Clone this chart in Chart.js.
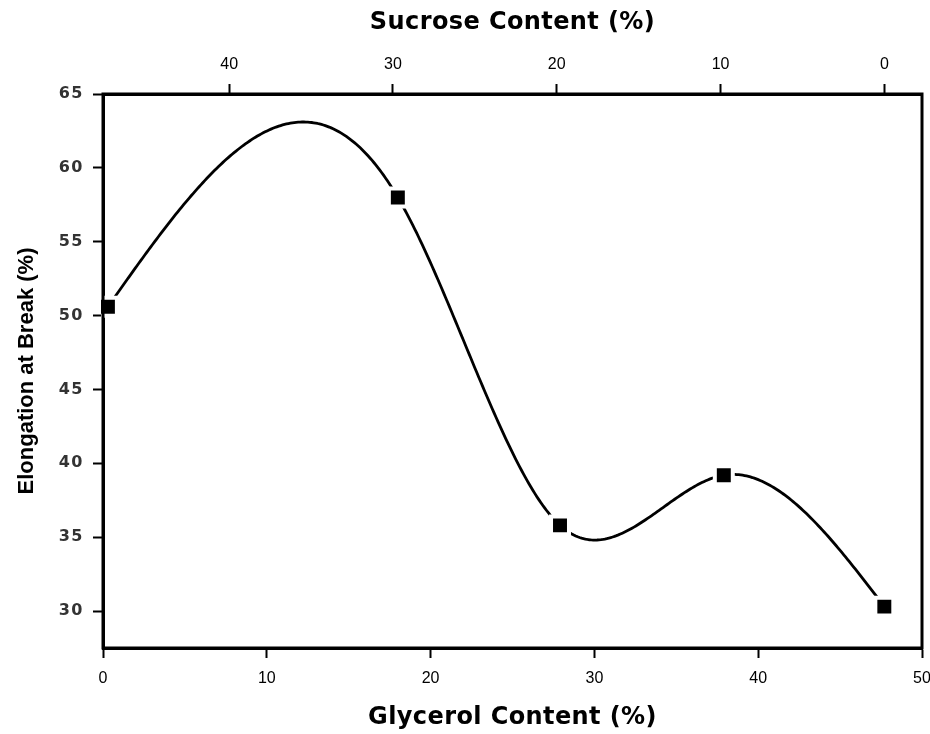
<!DOCTYPE html>
<html>
<head>
<meta charset="utf-8">
<title>Elongation at Break vs Glycerol / Sucrose Content</title>
<script src="https://cdn.jsdelivr.net/npm/chart.js@4/dist/chart.umd.min.js"></script>
<style>
  html, body { margin: 0; padding: 0; background: #fff; }
  canvas { display: block; }
</style>
</head>
<body>
<canvas id="chart" width="930" height="734"></canvas>
<script>
// Measured film formulations
const glycerolContent = [0.3, 18.0, 27.9, 37.9, 47.7];
const elongationAtBreak = [50.6, 58.0, 35.8, 39.2, 30.3];

// Axis ticks
const glycerolTicks = [0, 10, 20, 30, 40, 50];
const sucroseTicks = [40, 30, 20, 10, 0];
const elongationTicks = [30, 35, 40, 45, 50, 55, 60, 65];

// Sucrose share of the formulation with no glycerol; the top axis runs the other way
const sucroseAtNoGlycerol = 47.7;

const SANS = "'Liberation Sans', Arial, Helvetica, sans-serif";
const WIDE = "'DejaVu Sans', Verdana, sans-serif";

// Linear scale that can space out the letters of its title and tick labels
const BaseLinear = Chart.LinearScale || Chart.registry.getScale('linear');
class SpacedLinearScale extends BaseLinear {
  drawTitle() {
    const ctx = this.ctx;
    ctx.save();
    ctx.letterSpacing = (this.options.title.letterSpacing || 0) + 'px';
    super.drawTitle();
    ctx.restore();
  }
  drawLabels(area) {
    const ctx = this.ctx;
    ctx.save();
    ctx.letterSpacing = (this.options.ticks.letterSpacing || 0) + 'px';
    super.drawLabels(area);
    ctx.restore();
  }
}
SpacedLinearScale.id = 'spacedLinear';
SpacedLinearScale.defaults = BaseLinear.defaults;
Chart.register(SpacedLinearScale);

// Natural cubic spline through the measured points (in data units)
function naturalSpline(xs, ys) {
  const n = xs.length;
  const h = [];
  for (let i = 0; i < n - 1; i++) h.push(xs[i + 1] - xs[i]);
  const a = [], b = [], c = [], r = [];
  for (let i = 1; i < n - 1; i++) {
    a.push(h[i - 1]);
    b.push(2 * (h[i - 1] + h[i]));
    c.push(h[i]);
    r.push(6 * ((ys[i + 1] - ys[i]) / h[i] - (ys[i] - ys[i - 1]) / h[i - 1]));
  }
  const k = b.length;
  for (let i = 1; i < k; i++) {
    const w = a[i] / b[i - 1];
    b[i] -= w * c[i - 1];
    r[i] -= w * r[i - 1];
  }
  const sol = new Array(k);
  sol[k - 1] = r[k - 1] / b[k - 1];
  for (let i = k - 2; i >= 0; i--) sol[i] = (r[i] - c[i] * sol[i + 1]) / b[i];
  const m = new Array(n).fill(0);
  for (let i = 0; i < k; i++) m[i + 1] = sol[i];
  return function (x) {
    let i = 0;
    while (i < n - 2 && x > xs[i + 1]) i++;
    const hi = h[i];
    const A = (xs[i + 1] - x) / hi;
    const B = (x - xs[i]) / hi;
    return A * ys[i] + B * ys[i + 1] +
      ((A * A * A - A) * m[i] + (B * B * B - B) * m[i + 1]) * hi * hi / 6;
  };
}

const splineCurve = {
  id: 'splineCurve',
  beforeDatasetsDraw(chart) {
    const ds = chart.data.datasets[0];
    const xs = ds.data.map(p => p.x);
    const ys = ds.data.map(p => p.y);
    const f = naturalSpline(xs, ys);
    const xScale = chart.scales.x, yScale = chart.scales.y;
    const ctx = chart.ctx;
    const steps = 400;
    ctx.save();
    ctx.beginPath();
    for (let s = 0; s <= steps; s++) {
      const xv = xs[0] + (xs[xs.length - 1] - xs[0]) * s / steps;
      const px = xScale.getPixelForValue(xv);
      const py = yScale.getPixelForValue(f(xv));
      if (s === 0) ctx.moveTo(px, py); else ctx.lineTo(px, py);
    }
    ctx.lineWidth = 2.8;
    ctx.strokeStyle = '#000';
    ctx.lineJoin = 'round';
    ctx.lineCap = 'butt';
    ctx.stroke();
    ctx.restore();
  }
};

const plotFrame = {
  id: 'plotFrame',
  afterDatasetsDraw(chart) {
    const { left, top, right, bottom } = chart.chartArea;
    const ctx = chart.ctx;
    ctx.save();
    ctx.lineWidth = 3;
    ctx.strokeStyle = '#000';
    ctx.strokeRect(left, top, right - left, bottom - top);
    ctx.restore();
  }
};

function noEdgePadding(scale) {
  scale.paddingLeft = 0;
  scale.paddingRight = 0;
  scale.paddingTop = 0;
  scale.paddingBottom = 0;
}

const tickGrid = {
  display: true,
  drawOnChartArea: false,
  drawTicks: true,
  tickLength: 10,
  tickWidth: 2,
  tickColor: '#000'
};
const axisBorder = { display: true, color: '#000', width: 3 };
const titleFont = { family: WIDE, size: 24, weight: 'bold' };
const xTickFont = { family: SANS, size: 16 };

new Chart(document.getElementById('chart'), {
  type: 'scatter',
  data: {
    datasets: [{
      label: 'Elongation at Break',
      data: glycerolContent.map((g, i) => ({ x: g, y: elongationAtBreak[i] })),
      xAxisID: 'x',
      yAxisID: 'y',
      showLine: false,
      pointStyle: 'rect',
      pointRadius: 12.7,
      pointHoverRadius: 12.7,
      backgroundColor: '#000',
      borderColor: '#fff',
      borderWidth: 4,
      clip: 2
    }]
  },
  plugins: [splineCurve, plotFrame],
  options: {
    responsive: false,
    devicePixelRatio: 1,
    animation: false,
    events: [],
    layout: { autoPadding: false, padding: { left: 0, right: 8, top: 0, bottom: 0 } },
    plugins: {
      legend: { display: false },
      tooltip: { enabled: false }
    },
    scales: {
      x: {
        type: 'spacedLinear',
        position: 'bottom',
        min: 0,
        max: 50,
        afterBuildTicks: s => { s.ticks = glycerolTicks.map(v => ({ value: v })); },
        afterFit: s => { s.height = 86; noEdgePadding(s); },
        grid: tickGrid,
        border: axisBorder,
        ticks: { font: xTickFont, color: '#000', padding: 11, maxRotation: 0 },
        title: {
          display: true,
          text: 'Glycerol Content (%)',
          font: titleFont,
          color: '#000',
          padding: { top: 0, bottom: 2 },
          letterSpacing: 0.4
        }
      },
      x2: {
        type: 'spacedLinear',
        position: 'top',
        reverse: true,
        min: sucroseAtNoGlycerol - 50,
        max: sucroseAtNoGlycerol,
        afterBuildTicks: s => { s.ticks = sucroseTicks.map(v => ({ value: v })); },
        afterFit: s => { s.height = 94; noEdgePadding(s); },
        grid: tickGrid,
        border: axisBorder,
        ticks: { font: xTickFont, color: '#000', padding: 10, maxRotation: 0 },
        title: {
          display: true,
          text: 'Sucrose Content (%)',
          font: titleFont,
          color: '#000',
          padding: { top: 8, bottom: 0 },
          letterSpacing: 0.4
        }
      },
      y: {
        type: 'spacedLinear',
        position: 'left',
        min: 27.5,
        max: 65,
        afterBuildTicks: s => { s.ticks = elongationTicks.map(v => ({ value: v })); },
        afterFit: s => { s.width = 103; noEdgePadding(s); },
        grid: tickGrid,
        border: axisBorder,
        ticks: { font: { family: WIDE, size: 16, weight: 'bold' }, color: '#333', padding: 9, letterSpacing: 1.5 },
        title: {
          display: true,
          text: 'Elongation at Break (%)',
          font: { family: SANS, size: 22, weight: 'bold' },
          color: '#000',
          padding: { top: 14, bottom: 0 }
        }
      }
    }
  }
});
</script>
</body>
</html>
